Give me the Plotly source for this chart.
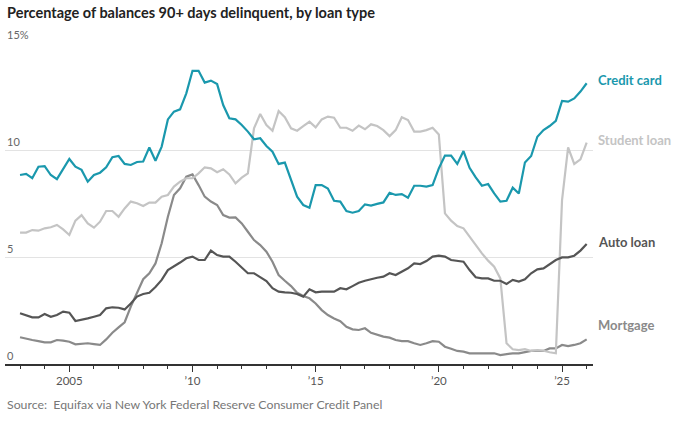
import pandas as pd
import plotly.graph_objects as go

# Quarterly observations, Q1 2003 .. (latest)
quarters = pd.date_range("2003-01-01", "2026-01-01", freq="QS")

credit_card = [
    8.83, 8.88, 8.68, 9.22,
    9.25, 8.83, 8.64, 9.14,
    9.58, 9.22, 9.07, 8.52,
    8.83, 8.94, 9.19, 9.66,
    9.72, 9.35, 9.30, 9.44,
    9.46, 10.12, 9.50, 10.16,
    11.43, 11.79, 11.90, 12.65,
    13.70, 13.70, 13.15, 13.24,
    13.08, 12.10, 11.48, 11.43,
    11.17, 10.86, 10.50, 10.55,
    10.19, 9.92, 9.35, 9.41,
    8.60, 7.82, 7.43, 7.30,
    8.36, 8.36, 8.20, 7.63,
    7.59, 7.15, 7.07, 7.15,
    7.46, 7.40, 7.48, 7.55,
    8.00, 7.90, 7.94, 7.77,
    8.33, 8.33, 8.29, 8.36,
    9.14, 9.74, 9.74, 9.35,
    9.95, 9.17, 8.72, 8.33,
    8.41, 7.97, 7.59, 7.63,
    8.24, 7.97, 9.42, 9.72,
    10.62, 10.93, 11.12, 11.36,
    12.29, 12.26, 12.41, 12.73,
    13.12,
]

student_loan = [
    6.14, 6.14, 6.26, 6.23,
    6.34, 6.39, 6.50, 6.29,
    6.03, 6.70, 6.96, 6.57,
    6.37, 6.65, 7.15, 7.15,
    6.88, 7.27, 7.59, 7.51,
    7.38, 7.54, 7.54, 7.82,
    7.90, 8.29, 8.52, 8.68,
    8.68, 8.91, 9.19, 9.14,
    8.96, 9.10, 8.86, 8.44,
    8.71, 8.91, 11.01, 11.68,
    11.17, 10.90, 11.82, 11.53,
    11.01, 10.90, 11.12, 11.32,
    11.06, 11.43, 11.56, 11.51,
    11.04, 11.04, 10.90, 11.14,
    10.97, 11.20, 11.12, 10.93,
    10.65, 10.93, 11.53, 11.40,
    10.86, 10.86, 10.93, 11.04,
    10.73, 7.04, 6.70, 6.45,
    6.34, 5.95, 5.56, 5.17,
    4.83, 4.55, 4.00, 0.97,
    0.69, 0.65, 0.69, 0.61,
    0.65, 0.62, 0.55, 0.50,
    7.66, 10.12, 9.35, 9.56,
    10.34,
]

auto_loan = [
    2.37, 2.29, 2.18, 2.18,
    2.34, 2.21, 2.29, 2.45,
    2.40, 2.01, 2.06, 2.13,
    2.21, 2.29, 2.60, 2.65,
    2.63, 2.55, 2.83, 3.15,
    3.27, 3.33, 3.60, 3.93,
    4.39, 4.55, 4.74, 4.94,
    5.02, 4.86, 4.86, 5.30,
    5.09, 5.02, 5.02, 4.78,
    4.50, 4.24, 4.24, 4.05,
    3.88, 3.54, 3.38, 3.35,
    3.33, 3.27, 3.15, 3.49,
    3.35, 3.38, 3.38, 3.38,
    3.54, 3.49, 3.64, 3.80,
    3.89, 3.97, 4.03, 4.08,
    4.24, 4.16, 4.31, 4.47,
    4.70, 4.67, 4.81, 5.02,
    5.06, 5.02, 4.86, 4.81,
    4.78, 4.39, 4.05, 4.00,
    4.00, 3.89, 3.89, 3.74,
    3.93, 3.85, 3.96, 4.24,
    4.42, 4.47, 4.67, 4.86,
    4.98, 4.98, 5.06, 5.30,
    5.61,
]

mortgage = [
    1.25, 1.17, 1.12, 1.07,
    1.01, 1.01, 1.12, 1.09,
    1.04, 0.92, 0.93, 0.97,
    0.93, 0.89, 1.15, 1.46,
    1.71, 1.95, 2.68, 3.30,
    3.96, 4.24, 4.70, 5.64,
    6.88, 7.90, 8.21, 8.75,
    8.86, 8.36, 7.82, 7.59,
    7.43, 6.96, 6.84, 6.85,
    6.57, 6.18, 5.79, 5.56,
    5.25, 4.78, 4.16, 3.89,
    3.64, 3.33, 3.18, 3.07,
    2.83, 2.52, 2.29, 2.13,
    2.00, 1.74, 1.62, 1.59,
    1.67, 1.46, 1.36, 1.28,
    1.23, 1.12, 1.07, 1.07,
    0.97, 0.89, 0.97, 1.07,
    1.04, 0.81, 0.71, 0.61,
    0.58, 0.50, 0.50, 0.50,
    0.50, 0.50, 0.42, 0.47,
    0.50, 0.50, 0.55, 0.61,
    0.62, 0.61, 0.73, 0.73,
    0.89, 0.84, 0.89, 0.97,
    1.15,
]

series_names = ["Mortgage", "Student loan", "Auto loan", "Credit card"]
series_values = [mortgage, student_loan, auto_loan, credit_card]
series_colors = ["#8a8a8a", "#c4c4c4", "#555555", "#1a98ad"]
label_y = [1.84, 10.47, 5.70, 13.25]

x_tick_vals = ["2005-01-01", "2010-01-01", "2015-01-01", "2020-01-01", "2025-01-01"]
x_tick_text = ["2005", "\u201910", "\u201915", "\u201920", "\u201925"]
y_tick_vals = [0, 5, 10, 15]
y_tick_text = ["0", "5", "10", "15%"]

FONT = "Lato"
PLOT_TOP, PLOT_H = 43, 321


def paper_y(px):
    return (PLOT_TOP + PLOT_H - px) / PLOT_H


fig = go.Figure()
for name, vals, col in zip(series_names, series_values, series_colors):
    fig.add_trace(go.Scatter(
        x=quarters, y=vals, mode="lines", name=name,
        line=dict(color=col, width=2.2), hoverinfo="skip",
    ))

annotations = []
for name, ly, col in zip(series_names, label_y, series_colors):
    annotations.append(dict(
        x=1, xref="paper", xshift=3, xanchor="left",
        y=ly, yref="y", yanchor="middle",
        text="<b>" + name + "</b>", showarrow=False,
        font=dict(family=FONT, size=13, color=col),
    ))
for v, t in zip(y_tick_vals, y_tick_text):
    annotations.append(dict(
        x=0, xref="paper", xanchor="left", xshift=0,
        y=v, yref="y", yanchor="bottom", yshift=0,
        text=t, showarrow=False,
        font=dict(family=FONT, size=11, color="#666666"),
    ))
annotations.append(dict(
    x=0, xref="paper", xanchor="left",
    y=paper_y(13), yref="paper", yanchor="middle",
    text="<b>Percentage of balances 90+ days delinquent, by loan type</b>",
    showarrow=False, font=dict(family=FONT, size=14.5, color="#222222"),
))
annotations.append(dict(
    x=0, xref="paper", xanchor="left",
    y=paper_y(404), yref="paper", yanchor="middle",
    text="Source:  Equifax via New York Federal Reserve Consumer Credit Panel",
    showarrow=False, font=dict(family=FONT, size=12.3, color="#777777"),
))

fig.update_layout(
    width=680, height=421,
    margin=dict(l=5, r=87, t=PLOT_TOP, b=421 - PLOT_TOP - PLOT_H),
    paper_bgcolor="white", plot_bgcolor="white",
    showlegend=False,
    hovermode=False,
    annotations=annotations,
    xaxis=dict(
        range=["2002-05-23", "2026-04-05"],
        tickvals=x_tick_vals, ticktext=x_tick_text,
        ticks="outside", ticklen=6, tickcolor="#333333", tickwidth=1,
        showline=True, linecolor="#333333", linewidth=1.5,
        showgrid=False, zeroline=False,
        tickfont=dict(family=FONT, size=11.5, color="#555555"),
        minor=dict(dtick="M12", tick0="2003-01-01", ticks="outside",
                   ticklen=3, tickcolor="#333333", showgrid=False),
    ),
    yaxis=dict(
        range=[0, 15], tickvals=[5, 10, 15], showticklabels=False,
        showgrid=True, gridcolor="#e3e3e3", gridwidth=1,
        zeroline=False, showline=False, ticks="",
    ),
)

fig.write_html(
    "out.html",
    config={"displayModeBar": False, "staticPlot": True},
    post_script="document.body.style.margin='0';document.body.style.overflow='hidden';",
)
